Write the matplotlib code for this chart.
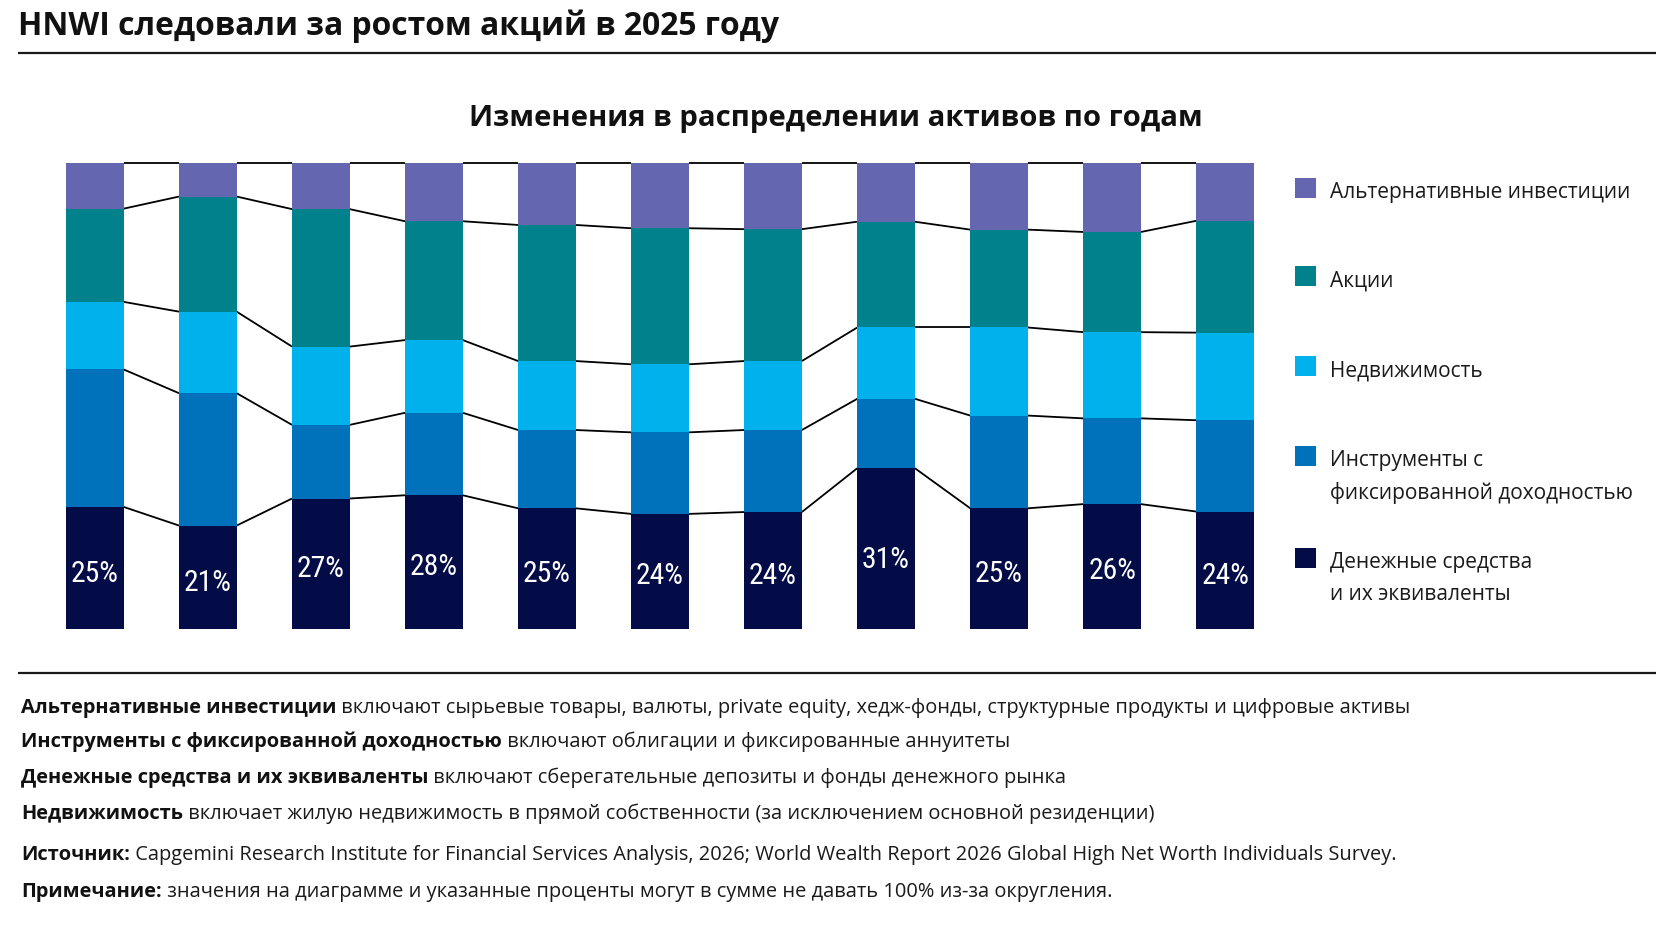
import matplotlib
matplotlib.use("Agg")
import matplotlib.pyplot as plt
from matplotlib import font_manager as fm
from matplotlib.patches import Rectangle
import numpy as np

# ---------------- data ----------------
series_names = ["Денежные средства\nи их эквиваленты",
                "Инструменты с\nфиксированной доходностью",
                "Недвижимость",
                "Акции",
                "Альтернативные инвестиции"]
cash         = [26.2, 22.2, 28.0, 28.7, 25.9, 24.7, 25.1, 34.5, 25.9, 26.8, 25.2]
fixed_income = [29.5, 28.4, 15.8, 17.7, 16.8, 17.5, 17.6, 14.9, 19.9, 18.4, 19.6]
real_estate  = [14.5, 17.5, 16.8, 15.6, 14.8, 14.6, 14.8, 15.3, 18.9, 18.5, 18.8]
equities     = [20.0, 24.7, 29.5, 25.5, 29.2, 29.2, 28.3, 22.7, 21.0, 21.5, 24.0]
alternatives = [ 9.8,  7.2,  9.9, 12.5, 13.3, 14.0, 14.2, 12.6, 14.3, 14.8, 12.4]
cash_label_values = [25, 21, 27, 28, 25, 24, 24, 31, 25, 26, 24]

title = "HNWI следовали за ростом акций в 2025 году"
subtitle = "Изменения в распределении активов по годам"
notes = [
    ("Альтернативные инвестиции",
     " включают сырьевые товары, валюты, private equity, хедж-фонды, структурные продукты и цифровые активы"),
    ("Инструменты с фиксированной доходностью",
     " включают облигации и фиксированные аннуитеты"),
    ("Денежные средства и их эквиваленты",
     " включают сберегательные депозиты и фонды денежного рынка"),
    ("Недвижимость",
     " включает жилую недвижимость в прямой собственности (за исключением основной резиденции)"),
    ("Источник:",
     " Capgemini Research Institute for Financial Services Analysis, 2026; World Wealth Report 2026 Global High Net Worth Individuals Survey."),
    ("Примечание:",
     " значения на диаграмме и указанные проценты могут в сумме не давать 100% из-за округления."),
]

colors = ["#030C47", "#0071BB", "#00B1EC", "#00818B", "#6566B0"]

# ---------------- fonts ----------------
avail = {f.name for f in fm.fontManager.ttflist}
main_font = [f for f in ["Open Sans", "Noto Sans", "DejaVu Sans"] if f in avail] + ["DejaVu Sans"]
label_font = [f for f in ["Liberation Sans Narrow", "Roboto Condensed", "Open Sans", "DejaVu Sans"] if f in avail][:1] + ["DejaVu Sans"]
plt.rcParams["font.family"] = main_font

W, H = 1672, 941
fig = plt.figure(figsize=(W / 100, H / 100), dpi=100)
fig.patch.set_facecolor("white")

# ---------------- chart ----------------
ax = fig.add_axes([66 / W, 1 - 629 / H, 1188 / W, 466 / H])
n = len(cash)
x = np.arange(n)
bw = 0.51
stack = np.array([cash, fixed_income, real_estate, equities, alternatives])
bottoms = np.vstack([np.zeros(n), np.cumsum(stack, axis=0)])
for k in range(stack.shape[0]):
    ax.bar(x, stack[k], bw, bottom=bottoms[k], color=colors[k], linewidth=0, zorder=2)
for lvl in range(1, stack.shape[0] + 1):
    for i in range(n - 1):
        ax.plot([x[i] + bw / 2, x[i + 1] - bw / 2], [bottoms[lvl][i], bottoms[lvl][i + 1]],
                color="black", lw=1.3, solid_capstyle="butt", zorder=1, clip_on=False)
ax.set_xlim(-bw / 2, n - 1 + bw / 2)
ax.set_ylim(0, 100)
ax.axis("off")

pct_texts = []
for i, v in enumerate(cash_label_values):
    t = ax.text(x[i], v / 2, f"{v}%", ha="center", va="center_baseline", color="white",
                fontsize=22, family=label_font, weight="normal", zorder=3)
    pct_texts.append(t)

# ---------------- overlay (pixel coords) ----------------
ov = fig.add_axes([0, 0, 1, 1])
ov.set_xlim(0, W)
ov.set_ylim(H, 0)
ov.axis("off")

t_title = ov.text(18, 35, title, fontsize=20, weight="bold", va="baseline", ha="left", color="#111111")
ov.plot([18, 1656], [52.7, 52.7], color="#1a1a1a", lw=1.6, solid_capstyle="butt")
t_sub = ov.text(836, 125.5, subtitle, fontsize=22, weight="bold", va="baseline", ha="center", color="#111111")
ov.plot([18, 1656], [672.5, 672.5], color="#1a1a1a", lw=1.6, solid_capstyle="butt")

# legend (top -> bottom)
leg_baselines = [198.3, 286.3, 376.3, 466.0, 568.0]
leg_texts = []
for j, k in enumerate(range(stack.shape[0] - 1, -1, -1)):
    b = leg_baselines[j]
    ov.add_patch(Rectangle((1295, b - 20), 21, 20, color=colors[k], lw=0))
    for li, line in enumerate(series_names[k].split("\n")):
        t = ov.text(1330, b + li * 32.5, line, fontsize=16.5, va="baseline", ha="left", color="#1a1a1a")
        leg_texts.append(t)

# footnotes
note_baselines = [713, 746.5, 782.5, 818.5, 860, 897.5]
note_pairs = []
for (bold, rest), b in zip(notes, note_baselines):
    tb = ov.text(21, b, bold, fontsize=15, weight="bold", va="baseline", ha="left", color="#111111")
    tr = ov.annotate(rest, xy=(1, 0), xycoords=tb, va="bottom", ha="left",
                     fontsize=15, color="#1a1a1a")
    note_pairs.append((tb, tr))

# ---------------- fit text widths ----------------
fig.canvas.draw()
r = fig.canvas.get_renderer()

def width(t):
    return t.get_window_extent(r).width

def scale(ts, f):
    for t in ts:
        t.set_fontsize(t.get_fontsize() * f)

scale([t_title], 760 / width(t_title))
scale([t_sub], 732 / width(t_sub))
scale(leg_texts, 301 / width(leg_texts[0]))
scale(pct_texts, 48 / width(pct_texts[0]))
tb0, tr0 = note_pairs[0]
tot = tr0.get_window_extent(r).x1 - tb0.get_window_extent(r).x0
scale([t for p in note_pairs for t in p], 1384 / tot)

fig.savefig("out.png", dpi=100, facecolor="white")
